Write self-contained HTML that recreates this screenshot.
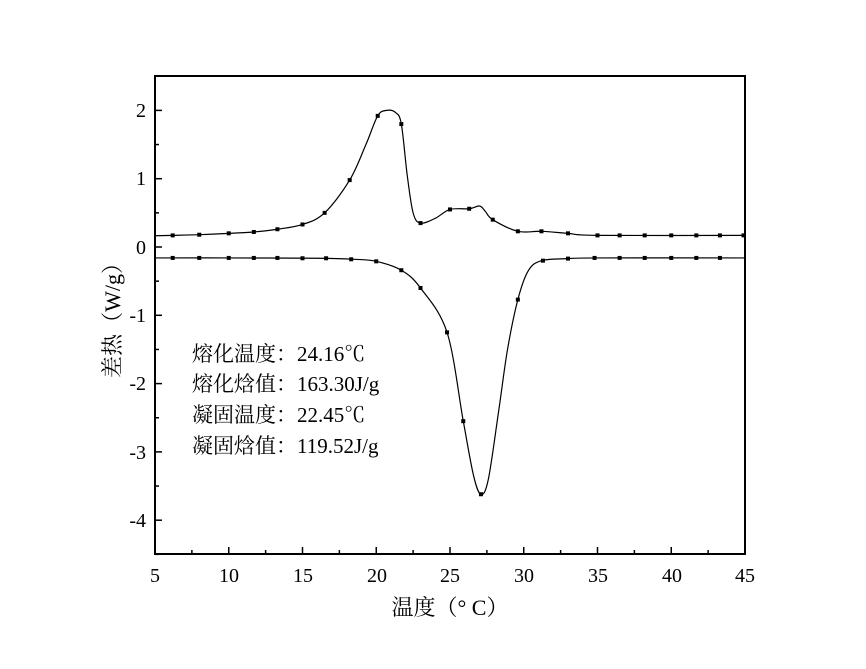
<!DOCTYPE html>
<html><head><meta charset="utf-8"><style>
body{margin:0;background:#fff}
svg text{font-family:"Liberation Serif","Noto Serif CJK SC",serif;fill:#000}
</style></head><body>
<svg id="s" width="866" height="664" xmlns="http://www.w3.org/2000/svg">
<rect x="155" y="76" width="590" height="478" fill="none" stroke="#000" stroke-width="2"/>
<g id="ticks" stroke="#000" stroke-width="1.5"></g>
<g font-size="20" text-anchor="middle">
<text x="155" y="582">5</text><text x="229" y="582">10</text><text x="303" y="582">15</text><text x="377" y="582">20</text><text x="450" y="582">25</text><text x="524" y="582">30</text><text x="598" y="582">35</text><text x="672" y="582">40</text><text x="745" y="582">45</text>
</g>
<g font-size="20" text-anchor="end">
<text x="146" y="117">2</text><text x="146" y="185">1</text><text x="146" y="254">0</text><text x="146" y="322">-1</text><text x="146" y="390">-2</text><text x="146" y="459">-3</text><text x="146" y="527">-4</text>
</g>
<text x="450" y="615" font-size="22" text-anchor="middle">温度（° C）</text>
<text transform="translate(120,315) rotate(-90)" font-size="22" text-anchor="middle">差热（W/g）</text>
<g font-size="21">
<text x="192" y="361">熔化温度：24.16℃</text>
<text x="192" y="391">熔化焓值：163.30J/g</text>
<text x="192" y="422">凝固温度：22.45℃</text>
<text x="192" y="453">凝固焓值：119.52J/g</text>
</g>
<g id="curves" fill="none" stroke="#000" stroke-width="1.2"></g>
<g id="marks" fill="#000"></g>
</svg>
<script>
function px(x){return 155+(x-5)*14.75}
function py(y){return 247-y*68.3}
var t=document.getElementById("ticks"),h="";
for(var x=5;x<=45;x+=2.5){var L=(x%5==0)?7:4;h+='<line x1="'+px(x)+'" y1="554" x2="'+px(x)+'" y2="'+(554-L)+'"/>';}
for(var y=-4.5;y<=2.5;y+=0.5){var L=(Math.abs(y%1)<1e-6)?7:4;h+='<line x1="155" y1="'+py(y)+'" x2="'+(155+L)+'" y2="'+py(y)+'"/>';}
t.innerHTML=h;
var topC=[[5,0.165],[6.2,0.17],[8,0.18],[10,0.2],[11.7,0.22],[13.3,0.26],[15,0.33],[16.5,0.5],[18.2,0.98],[19.3,1.5],[20.1,1.92],[20.7,2.0],[21.3,1.97],[21.7,1.8],[22.1,1.05],[22.5,0.5],[23,0.35],[24,0.42],[25,0.55],[26.3,0.56],[27,0.6],[27.4,0.52],[27.9,0.4],[29.6,0.23],[31.2,0.23],[33,0.2],[35,0.17],[45,0.17]];
var botC=[[5,-0.16],[10,-0.16],[16,-0.165],[18.5,-0.18],[20,-0.21],[21.7,-0.34],[23,-0.6],[24.8,-1.25],[25.9,-2.55],[26.6,-3.35],[27.1,-3.62],[27.6,-3.4],[28.3,-2.4],[28.9,-1.5],[29.6,-0.77],[30.3,-0.35],[31.2,-0.2],[33,-0.17],[35,-0.16],[45,-0.16]];
function path(p){var d="M"+px(p[0][0])+","+py(p[0][1]);
for(var i=0;i<p.length-1;i++){var a=p[Math.max(0,i-1)],b=p[i],c=p[i+1],e=p[Math.min(p.length-1,i+2)];
var c1x=px(b[0])+(px(c[0])-px(a[0]))/6,c1y=py(b[1])+(py(c[1])-py(a[1]))/6,c2x=px(c[0])-(px(e[0])-px(b[0]))/6,c2y=py(c[1])-(py(e[1])-py(b[1]))/6;
d+=" C"+c1x+","+c1y+" "+c2x+","+c2y+" "+px(c[0])+","+py(c[1]);}return d;}
document.getElementById("curves").innerHTML='<path d="'+path(topC)+'"/><path d="'+path(botC)+'"/>';
var tm=[[6.2,0.17],[8,0.18],[10,0.2],[11.7,0.22],[13.3,0.26],[15,0.33],[16.5,0.5],[18.2,0.98],[20.1,1.92],[21.7,1.8],[23,0.35],[25,0.55],[26.3,0.56],[27.9,0.4],[29.6,0.23],[31.2,0.23],[33,0.2],[35,0.17],[36.5,0.17],[38.2,0.17],[40,0.17],[41.7,0.17],[43.3,0.17],[44.9,0.17]];
var bm=[[6.2,-0.16],[8,-0.16],[10,-0.16],[11.7,-0.16],[13.3,-0.16],[15,-0.165],[16.6,-0.165],[18.3,-0.18],[20,-0.21],[21.7,-0.34],[23,-0.6],[24.8,-1.25],[25.9,-2.55],[27.1,-3.62],[29.6,-0.77],[31.3,-0.2],[33,-0.17],[34.8,-0.16],[36.5,-0.16],[38.2,-0.16],[40,-0.16],[41.7,-0.16],[43.3,-0.16]];
var m="";tm.concat(bm).forEach(function(q){m+='<rect x="'+(px(q[0])-2)+'" y="'+(py(q[1])-2)+'" width="4" height="4"/>';});
document.getElementById("marks").innerHTML=m;
</script>
</body></html>
